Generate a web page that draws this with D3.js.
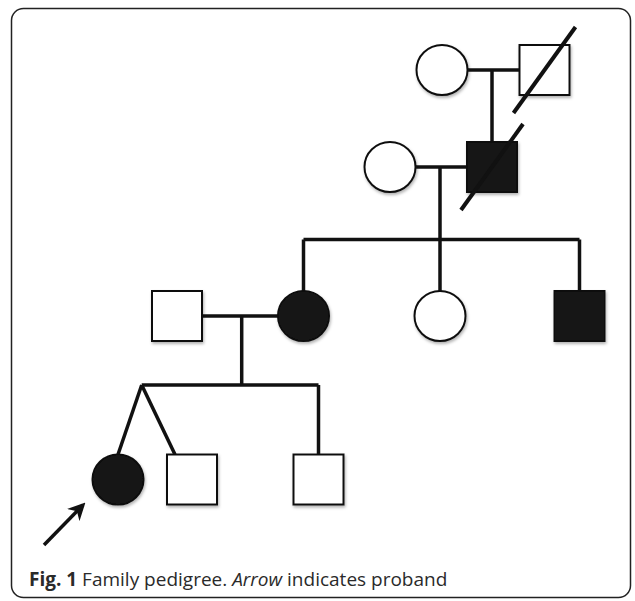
<!DOCTYPE html>
<html>
<head>
  <meta charset="utf-8">
  <title>Family pedigree</title>
  <style>
  body { margin: 0px; background: #fff; }
  .link { fill: none; stroke: #111; stroke-width: 3.5px; }
  .shape { stroke: #111; stroke-width: 2px; }
  </style>
</head>
<body>
  <script src="https://d3js.org/d3.v7.min.js"></script>
  <script>
  // individuals: id, sex, affected, deceased, generation, position (layout units)
  var ids       = ["I-1", "I-2", "II-1", "II-2", "III-1", "III-2", "III-3", "III-4", "IV-1", "IV-2", "IV-3"];
  var sexes     = ["F", "M", "F", "M", "M", "F", "F", "M", "F", "M", "M"];
  var affected  = [0, 0, 0, 1, 0, 1, 0, 1, 1, 0, 0];
  var deceased  = [0, 1, 0, 1, 0, 0, 0, 0, 0, 0, 0];
  var gens      = ["I", "I", "II", "II", "III", "III", "III", "III", "IV", "IV", "IV"];
  var positions = [431, 533.5, 379, 481, 166, 292.5, 429, 568.5, 107, 181, 307.5];

  // couples: [mother, father], children, drop line, sibship line, twin apex
  var coupleA   = [["I-1", "I-2"], ["II-1", "II-2"], ["III-2", "III-1"]];
  var children  = [["II-2"], ["III-2", "III-3", "III-4"], ["IV-1", "IV-2", "IV-3"]];
  var twins     = [[], [], ["IV-1", "IV-2"]];
  var dropPos   = [481, 429, 230.7];
  var sibLevel  = [null, 231.5, 377];
  var twinApex  = [null, null, 130.7];

  var generations = ["I", "II", "III", "IV"];
  var genLevels   = [62, 159, 308, 471.5];
  var proband = "IV-1";

  var W = 635, H = 601;
  var x = d3.scaleLinear().domain([0, 620]).range([11, 631]);
  var y = d3.scaleLinear().domain([0, 590]).range([8, 598]);
  var genY = d3.scaleOrdinal().domain(generations).range(genLevels.map(function(v) { return y(v); }));
  var half = 25;

  var people = ids.map(function(id, i) {
    return { id: id, sex: sexes[i], affected: affected[i], deceased: deceased[i],
             x: x(positions[i]), y: genY(gens[i]) };
  });
  var byId = {};
  people.forEach(function(p) { byId[p.id] = p; });

  var svg = d3.select("body").append("svg").attr("width", W).attr("height", H);

  var defs = svg.append("defs");
  defs.append("filter").attr("id", "shadow")
    .attr("x", "-20%").attr("y", "-20%").attr("width", "150%").attr("height", "150%")
    .append("feDropShadow")
    .attr("dx", 1).attr("dy", 2).attr("stdDeviation", 1.5)
    .attr("flood-color", "#000").attr("flood-opacity", 0.3);

  // frame
  svg.append("rect")
    .attr("x", x(0.5)).attr("y", y(0.5))
    .attr("width", x(620) - x(0) - 1).attr("height", y(590) - y(0) - 1)
    .attr("rx", 12).attr("ry", 12)
    .attr("fill", "none").attr("stroke", "#222").attr("stroke-width", 1.5);

  var g = svg.append("g");

  // relationship lines
  coupleA.forEach(function(c, k) {
    var a = byId[c[0]], b = byId[c[1]];
    var left = a.x < b.x ? a : b, right = a.x < b.x ? b : a;
    g.append("line").attr("class", "link")
      .attr("x1", left.x + half).attr("y1", left.y)
      .attr("x2", right.x - half).attr("y2", right.y);

    var dx = x(dropPos[k]);
    var kids = children[k].map(function(id) { return byId[id]; });
    if (sibLevel[k] == null) {
      g.append("line").attr("class", "link")
        .attr("x1", dx).attr("y1", left.y)
        .attr("x2", dx).attr("y2", kids[0].y - half);
      return;
    }
    var sy = y(sibLevel[k]);
    g.append("line").attr("class", "link")
      .attr("x1", dx).attr("y1", left.y).attr("x2", dx).attr("y2", sy);

    var tw = twins[k].map(function(id) { return byId[id]; });
    var apex = twinApex[k] == null ? null : x(twinApex[k]);
    var others = kids.filter(function(d) { return twins[k].indexOf(d.id) < 0; });
    var xs = others.map(function(d) { return d.x; });
    if (apex != null) xs.push(apex);
    g.append("line").attr("class", "link")
      .attr("x1", d3.min(xs)).attr("y1", sy).attr("x2", d3.max(xs)).attr("y2", sy);
    others.forEach(function(d) {
      g.append("line").attr("class", "link")
        .attr("x1", d.x).attr("y1", sy).attr("x2", d.x).attr("y2", d.y - half);
    });
    tw.forEach(function(d) {
      var tx = d.sex == "M" ? d.x - 17 : d.x;
      g.append("line").attr("class", "link")
        .attr("x1", apex).attr("y1", sy).attr("x2", tx).attr("y2", d.y - half);
    });
  });

  // individuals
  var nodes = g.selectAll(".node")
    .data(people)
    .enter()
    .append("g")
    .attr("class", "node")
    .attr("transform", function(d) { return "translate(" + d.x + "," + d.y + ")"; });

  nodes.filter(function(d) { return d.sex == "M"; })
    .append("rect")
    .attr("class", "shape")
    .attr("x", -half).attr("y", -half)
    .attr("width", 2 * half).attr("height", 2 * half)
    .attr("filter", "url(#shadow)")
    .attr("fill", function(d) { return d.affected ? "#151515" : "#fff"; });

  nodes.filter(function(d) { return d.sex == "F"; })
    .append("ellipse")
    .attr("class", "shape")
    .attr("rx", half + 0.5).attr("ry", half)
    .attr("filter", "url(#shadow)")
    .attr("fill", function(d) { return d.affected ? "#151515" : "#fff"; });

  nodes.filter(function(d) { return d.deceased; })
    .append("line")
    .attr("x1", 31).attr("y1", -43).attr("x2", -31).attr("y2", 43)
    .attr("stroke", "#111").attr("stroke-width", 4);

  // proband arrow
  var p = byId[proband];
  defs.append("marker").attr("id", "head")
    .attr("viewBox", "0 0 10 10").attr("refX", 8).attr("refY", 5)
    .attr("markerWidth", 5).attr("markerHeight", 5).attr("orient", "auto")
    .append("path").attr("d", "M0,0 L10,5 L0,10 L3,5 Z").attr("fill", "#111");
  svg.append("line")
    .attr("x1", p.x - 74).attr("y1", p.y + 65.5)
    .attr("x2", p.x - 35).attr("y2", p.y + 25.5)
    .attr("stroke", "#111").attr("stroke-width", 3.5)
    .attr("marker-end", "url(#head)");

  // caption
  var cap = svg.append("text")
    .attr("x", 29).attr("y", 586)
    .attr("font-family", "'Open Sans', 'Noto Sans', sans-serif")
    .attr("font-size", "19px").attr("fill", "#2a2a2a");
  cap.append("tspan").attr("font-weight", "bold").text("Fig. 1");
  cap.append("tspan").text(" Family pedigree. ");
  cap.append("tspan").attr("font-style", "italic").text("Arrow");
  cap.append("tspan").text(" indicates proband");
  </script>
</body>
</html>
